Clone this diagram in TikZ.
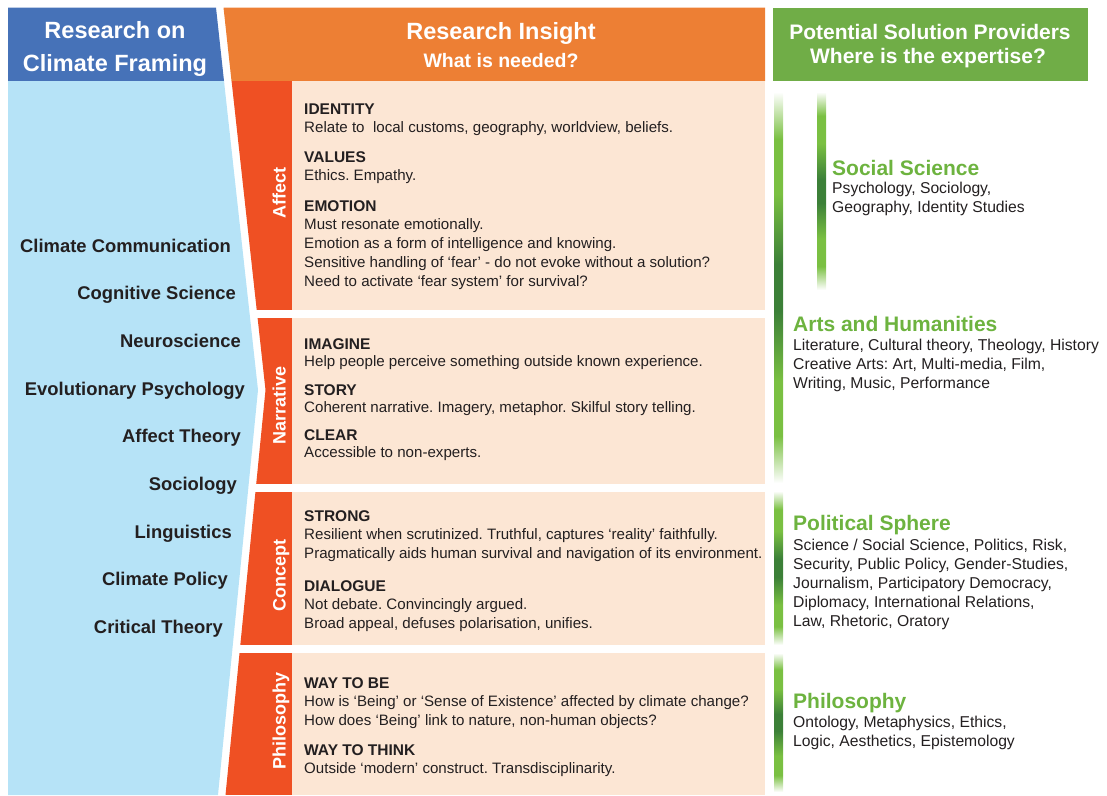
\documentclass[tikz,border=0pt]{standalone}
\usepackage{fontspec}
\setmainfont{Liberation Sans}
\frenchspacing

\definecolor{headblue}{RGB}{70,114,184}
\definecolor{skyblue}{RGB}{182,227,247}
\definecolor{headorange}{RGB}{237,127,52}
\definecolor{tabred}{RGB}{239,80,35}
\definecolor{cream}{RGB}{252,230,212}
\definecolor{headgreen}{RGB}{112,173,71}
\definecolor{titlegreen}{RGB}{109,179,63}
\definecolor{barlight}{RGB}{122,192,66}
\definecolor{bardark}{RGB}{60,128,56}
\definecolor{ink}{RGB}{35,31,32}

% fading green bar, white at both ends and dark in the middle
\pgfdeclareverticalshading{greenbar}{100bp}{color(0bp)=(white); color(25bp)=(white);
  color(31bp)=(barlight); color(38bp)=(barlight); color(47bp)=(bardark); color(53bp)=(bardark);
  color(62bp)=(barlight); color(69bp)=(barlight); color(75bp)=(white); color(100bp)=(white)}

\begin{document}
\begin{tikzpicture}[x=1pt,y=-1pt,
  header/.style={anchor=base,inner sep=0pt,text=white,font=\bfseries\fontsize{23.5}{28}\selectfont},
  subheader/.style={header,font=\bfseries\fontsize{19.5}{23}\selectfont},
  provheader/.style={header,font=\bfseries\fontsize{21}{25}\selectfont},
  topic/.style={anchor=base east,inner sep=0pt,text=ink,font=\bfseries\fontsize{18.4}{22}\selectfont},
  tab/.style={rotate=90,anchor=base,inner sep=0pt,text=white,font=\bfseries\fontsize{18}{22}\selectfont},
  need/.style={anchor=base west,inner sep=0pt,text=ink,font=\bfseries\fontsize{15.5}{18}\selectfont},
  detail/.style={anchor=base west,inner sep=0pt,text=ink,font=\fontsize{15.1}{18}\selectfont},
  field/.style={anchor=base west,inner sep=0pt,text=titlegreen,font=\bfseries\fontsize{21}{25}\selectfont},
  expert/.style={anchor=base west,inner sep=0pt,text=ink,font=\fontsize{15.7}{18}\selectfont}]
\useasboundingbox (0,0) rectangle (1107,795);
%
% constants
%
\newcommand*{\PanelLeft}{292}%
\newcommand*{\PanelRight}{765}%
\newcommand*{\TextLeft}{304}%

% draw framing column

\fill[headblue] (8,7.5) -- (216,7.5) -- (224,81) -- (8,81) -- cycle;
\fill[skyblue] (8,81) -- (224,81) -- (258,390) -- (218,795) -- (8,795) -- cycle;

\node[header] (frame-a) at (115,38.5) {Research on};
\node[header] (frame-b) at (115,71) {Climate Framing};

\node[topic] (comm) at (231,252.5) {Climate Communication};
\node[topic] (cogn) at (236,299.5) {Cognitive Science};
\node[topic] (neuro) at (241,347.5) {Neuroscience};
\node[topic] (evol) at (245,395.5) {Evolutionary Psychology};
\node[topic] (afft) at (241,442.5) {Affect Theory};
\node[topic] (soc) at (237,490.5) {Sociology};
\node[topic] (ling) at (232,538.5) {Linguistics};
\node[topic] (pol) at (228,585.5) {Climate Policy};
\node[topic] (crit) at (223,633.5) {Critical Theory};

% draw insight panels

\fill[headorange] (223.5,7.5) -- (231.5,81) -- (\PanelRight,81) -- (\PanelRight,7.5) -- cycle;

\begin{scope}
  \clip (223.5,7.5) -- (265.5,390) -- (225.5,795) -- (\PanelLeft,795) -- (\PanelLeft,7.5) -- cycle;
  \foreach \top/\bot in {81/310, 318/484, 492/645, 653/795}
    \fill[tabred] (200,\top) rectangle (\PanelLeft,\bot);
\end{scope}
\foreach \top/\bot in {81/310, 318/484, 492/645, 653/795}
  \fill[cream] (\PanelLeft,\top) rectangle (\PanelRight,\bot);

\node[header] (insight-a) at (501,39) {Research Insight};
\node[subheader] (insight-b) at (501,67.5) {What is needed?};

\node[tab] (affect) at (285.5,193) {Affect};
\node[tab] (narrative) at (285.5,405) {Narrative};
\node[tab] (concept) at (285.5,575) {Concept};
\node[tab] (philosophy) at (285.5,721) {Philosophy};

% affect
\node[need] (identity) at (\TextLeft,114) {IDENTITY};
\node[detail] (identity-1) at (\TextLeft,132) {Relate to\ \ local customs, geography, worldview, beliefs.};
\node[need] (values) at (\TextLeft,162) {VALUES};
\node[detail] (values-1) at (\TextLeft,180) {Ethics. Empathy.};
\node[need] (emotion) at (\TextLeft,211) {EMOTION};
\node[detail] (emotion-1) at (\TextLeft,229) {Must resonate emotionally.};
\node[detail] (emotion-2) at (\TextLeft,248) {Emotion as a form of intelligence and knowing.};
\node[detail] (emotion-3) at (\TextLeft,267) {Sensitive handling of ‘fear’ - do not evoke without a solution?};
\node[detail] (emotion-4) at (\TextLeft,286) {Need to activate ‘fear system’ for survival?};

% narrative
\node[need] (imagine) at (\TextLeft,349) {IMAGINE};
\node[detail] (imagine-1) at (\TextLeft,366.5) {Help people perceive something outside known experience.};
\node[need] (story) at (\TextLeft,395) {STORY};
\node[detail] (story-1) at (\TextLeft,412.5) {Coherent narrative. Imagery, metaphor. Skilful story telling.};
\node[need] (clear) at (\TextLeft,440) {CLEAR};
\node[detail] (clear-1) at (\TextLeft,457) {Accessible to non-experts.};

% concept
\node[need] (strong) at (\TextLeft,521) {STRONG};
\node[detail] (strong-1) at (\TextLeft,539.5) {Resilient when scrutinized. Truthful, captures ‘reality’ faithfully.};
\node[detail] (strong-2) at (\TextLeft,558.5) {Pragmatically aids human survival and navigation of its environment.};
\node[need] (dialogue) at (\TextLeft,591) {DIALOGUE};
\node[detail] (dialogue-1) at (\TextLeft,609.5) {Not debate. Convincingly argued.};
\node[detail] (dialogue-2) at (\TextLeft,628) {Broad appeal, defuses polarisation, unifies.};

% philosophy
\node[need] (tobe) at (\TextLeft,688) {WAY TO BE};
\node[detail] (tobe-1) at (\TextLeft,706.5) {How is ‘Being’ or ‘Sense of Existence’ affected by climate change?};
\node[detail] (tobe-2) at (\TextLeft,725) {How does ‘Being’ link to nature, non-human objects?};
\node[need] (tothink) at (\TextLeft,755) {WAY TO THINK};
\node[detail] (tothink-1) at (\TextLeft,773) {Outside ‘modern’ construct. Transdisciplinarity.};

% draw solution providers

\fill[headgreen] (773,7.5) rectangle (1088,81);
\node[provheader] (prov-a) at (930,39.3) {Potential Solution Providers};
\node[provheader] (prov-b) at (928,63.3) {Where is the expertise?};

\foreach \x/\top/\bot in {774/92/483, 774/491/645, 774/653/792, 817/92/290}
  \shade[shading=greenbar] (\x,\top) rectangle (\x+9,\bot);

\node[field] (socsci) at (832,175.5) {Social Science};
\node[expert] (socsci-1) at (832,193.5) {Psychology, Sociology,};
\node[expert] (socsci-2) at (832,212.5) {Geography, Identity Studies};

\node[field] (arts) at (793,331.5) {Arts and Humanities};
\node[expert] (arts-1) at (793,350.5) {Literature, Cultural theory, Theology, History};
\node[expert] (arts-2) at (793,369.5) {Creative Arts: Art, Multi-media, Film,};
\node[expert] (arts-3) at (793,388.5) {Writing, Music, Performance};

\node[field] (polit) at (793,530.5) {Political Sphere};
\node[expert] (polit-1) at (793,550.5) {Science / Social Science, Politics, Risk,};
\node[expert] (polit-2) at (793,569.5) {Security, Public Policy, Gender-Studies,};
\node[expert] (polit-3) at (793,588.5) {Journalism, Participatory Democracy,};
\node[expert] (polit-4) at (793,607.5) {Diplomacy, International Relations,};
\node[expert] (polit-5) at (793,626.5) {Law, Rhetoric, Oratory};

\node[field] (philo) at (793,708.5) {Philosophy};
\node[expert] (philo-1) at (793,727.5) {Ontology, Metaphysics, Ethics,};
\node[expert] (philo-2) at (793,746.5) {Logic, Aesthetics, Epistemology};

\end{tikzpicture}
\end{document}
